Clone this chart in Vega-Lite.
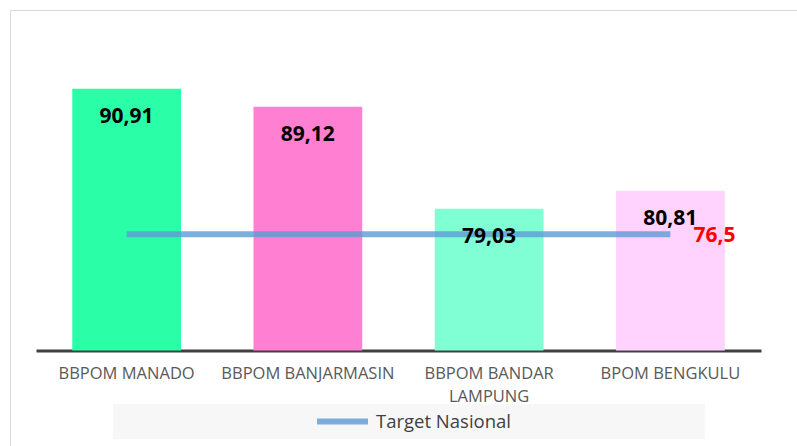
{
  "$schema": "https://vega.github.io/schema/vega-lite/v6.json",
  "width": 787,
  "height": 436,
  "autosize": {"type": "none"},
  "padding": {"left": 10, "top": 10, "right": 0, "bottom": 0},
  "background": "white",
  "config": {
    "view": {"stroke": "#d9d9d9", "strokeWidth": 1},
    "locale": {"number": {"decimal": ",", "thousands": ".", "grouping": [3], "currency": ["", ""]}},
    "font": "Open Sans"
  },
  "data": {
    "values": [
      {"unit": "BBPOM MANADO", "nilai": 90.91, "target": 76.5},
      {"unit": "BBPOM BANJARMASIN", "nilai": 89.12, "target": 76.5},
      {"unit": "BBPOM BANDAR LAMPUNG", "nilai": 79.03, "target": 76.5},
      {"unit": "BPOM BENGKULU", "nilai": 80.81, "target": 76.5}
    ]
  },
  "encoding": {
    "x": {
      "field": "unit",
      "type": "nominal",
      "sort": null,
      "scale": {"range": [26, 751], "paddingInner": 0.4, "paddingOuter": 0.2},
      "axis": {
        "title": null,
        "orient": "bottom",
        "offset": -95.5,
        "domain": true,
        "domainColor": "#404040",
        "domainWidth": 3,
        "ticks": false,
        "grid": false,
        "labelAngle": 0,
        "labelFont": "Open Sans",
        "labelFontSize": 16.5,
        "labelColor": "#595959",
        "labelPadding": 15,
        "labelLineHeight": 23,
        "labelLimit": 0,
        "labelExpr": "datum.label == 'BBPOM BANDAR LAMPUNG' ? ['BBPOM BANDAR', 'LAMPUNG'] : datum.label"
      }
    }
  },
  "layer": [
    {
      "mark": {"type": "bar"},
      "encoding": {
        "y": {"field": "nilai", "type": "quantitative", "scale": {"domain": [55.54, 98.71], "zero": false, "nice": false}, "axis": null},
        "y2": {"datum": 65},
        "fill": {
          "field": "unit",
          "type": "nominal",
          "sort": null,
          "scale": {
            "domain": ["BBPOM MANADO", "BBPOM BANJARMASIN", "BBPOM BANDAR LAMPUNG", "BPOM BENGKULU"],
            "range": ["#2AFFA7", "#FF80D2", "#80FFD4", "#FFD3FD"]
          },
          "legend": null
        }
      }
    },
    {
      "mark": {"type": "line", "strokeWidth": 6, "opacity": 0.8},
      "encoding": {
        "y": {"field": "target", "type": "quantitative", "scale": {"domain": [55.54, 98.71], "zero": false, "nice": false}, "axis": null},
        "stroke": {
          "datum": "Target Nasional",
          "type": "nominal",
          "scale": {"range": ["#5B9BD5"]},
          "legend": {
            "title": "\u00a0",
            "titleOrient": "right",
            "titlePadding": 186,
            "titleFontSize": 4,
            "orient": "none",
            "legendX": 103,
            "legendY": 394,
            "fillColor": "#f7f7f7",
            "padding": 8,
            "symbolType": "stroke",
            "symbolSize": 2601,
            "symbolStrokeWidth": 6,
            "symbolOffset": 193,
            "labelOffset": 5,
            "labelFontSize": 18.5,
            "labelColor": "#404040",
            "labelFont": "Open Sans",
            "clipHeight": 19
          }
        }
      }
    },
    {
      "mark": {"type": "text", "dy": 28, "baseline": "middle", "fontSize": 21, "fontWeight": "bold", "color": "#000000", "font": "Open Sans"},
      "encoding": {
        "y": {"field": "nilai", "type": "quantitative", "scale": {"domain": [55.54, 98.71], "zero": false, "nice": false}, "axis": null},
        "text": {"field": "nilai", "type": "quantitative", "format": ".2f"}
      }
    },
    {
      "transform": [{"filter": "datum.unit === 'BPOM BENGKULU'"}],
      "mark": {"type": "text", "align": "left", "dx": 23, "dy": 2, "baseline": "middle", "fontSize": 21, "fontWeight": "bold", "color": "#FF0000", "font": "Open Sans"},
      "encoding": {
        "y": {"field": "target", "type": "quantitative", "scale": {"domain": [55.54, 98.71], "zero": false, "nice": false}, "axis": null},
        "text": {"field": "target", "type": "quantitative", "format": ".1f"}
      }
    }
  ]
}
